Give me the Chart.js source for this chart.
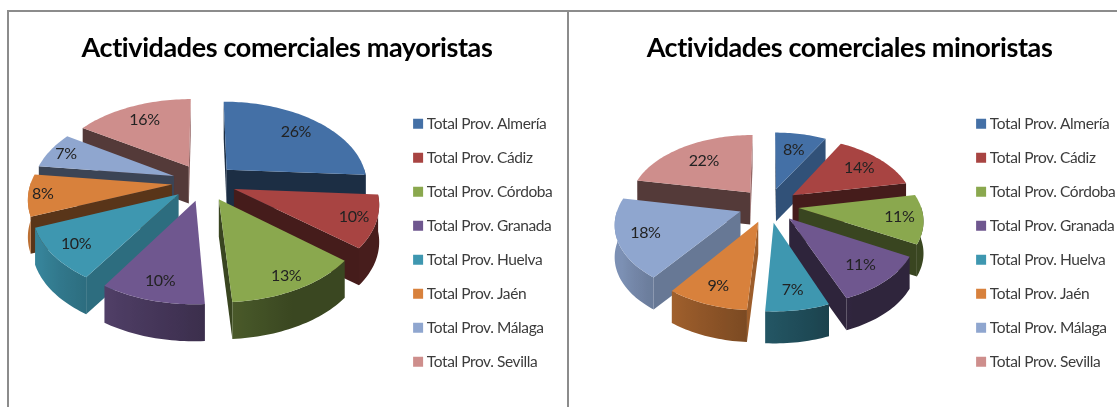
<!DOCTYPE html>
<html lang="es"><head><meta charset="utf-8">
<script src="https://cdn.jsdelivr.net/npm/chart.js@4"></script>
<style>
html,body{margin:0;padding:0;background:#fff;overflow:hidden;width:1117px;height:407px;position:relative}
canvas{position:absolute;display:block;filter:blur(.4px)}
.line{position:absolute;background:#8c8c8c}
</style></head><body>
<div class="line" style="left:7px;top:10px;width:1110px;height:2px"></div>
<div class="line" style="left:7px;top:10px;width:2px;height:397px"></div>
<div class="line" style="left:567px;top:10px;width:2px;height:397px"></div>
<canvas id="c1" style="left:4px;top:12px"></canvas>
<canvas id="c2" style="left:566px;top:12px"></canvas>
<script>
const categories = ['Total Prov. Almería','Total Prov. Cádiz','Total Prov. Córdoba','Total Prov. Granada','Total Prov. Huelva','Total Prov. Jaén','Total Prov. Málaga','Total Prov. Sevilla'];
const mayoristas = [26,10,13,10,10,8,7,16];
const minoristas = [8,14,11,11,7,9,18,22];
const colors = ['#4470A6','#A84442','#8AA84E','#6F578F','#3E97B0','#D8813C','#8FA6CF','#CE8E8C'];
const titleMay = 'Actividades comerciales mayoristas';
const titleMin = 'Actividades comerciales minoristas';
const labelRadiusMay = [.76,.85,.87,.83,.83,.90,.87,.76];
const labelRadiusMin = [.68,.75,.81,.76,.80,.80,.78,.68];

function shade(hex,f){
  const n=parseInt(hex.slice(1),16);
  return 'rgb('+[(n>>16)&255,(n>>8)&255,n&255].map(v=>Math.round(v*f)).join(',')+')';
}
const rimFactor=t=>{
  const deg=((t*180/Math.PI)%360+360)%360;
  return deg>270?0.42:0.42+0.45*Math.min(1,Math.max(0,(deg-65)/85));
};
const pie3d = {
  id:'pie3d',
  beforeDraw(chart){ chart.ctx.letterSpacing='-0.4px'; },
  beforeDatasetsDraw(chart,args,o){
    const ctx=chart.ctx, meta=chart.getDatasetMeta(0), bg=chart.data.datasets[0].backgroundColor;
    const arcs=meta.data.map((a,i)=>({a,i,mid:(a.startAngle+a.endAngle)/2}));
    arcs.sort((p,q)=>Math.sin(p.mid)-Math.sin(q.mid));
    const proj=(a,x,y,z)=>{
      const R=a.outerRadius, w=1/(1-o.persp*y/R);
      return [a.x+o.dx+x*w, a.y+o.dy+o.sy*y*w+z];
    };
    const poly=(pts,fill)=>{
      ctx.beginPath();pts.forEach((p,i)=>i?ctx.lineTo(p[0],p[1]):ctx.moveTo(p[0],p[1]));ctx.closePath();
      ctx.fillStyle=fill;ctx.fill();
    };
    for(const {a,i,mid} of arcs){
      const off=a.options.offset, ox=Math.cos(mid)*off, oy=Math.sin(mid)*off, R=a.outerRadius, col=bg[i];
      const P=(t,r,z)=>proj(a,ox+Math.cos(t)*r,oy+Math.sin(t)*r,z);
      const D=o.depth;
      const steps=Math.max(6,Math.ceil((a.endAngle-a.startAngle)*40));
      for(const [t,n] of [[a.startAngle,a.startAngle-Math.PI/2],[a.endAngle,a.endAngle+Math.PI/2]]){
        if(Math.sin(n)<-0.02) continue;
        const deg=((n*180/Math.PI)%360+360)%360;
        poly([P(t,0,0),P(t,R,0),P(t,R,D),P(t,0,D)],shade(col,deg<50?0.72:0.41));
      }
      let s0=a.startAngle,s1=a.endAngle;
      const ts=[];
      for(let s=0;s<=steps;s++){const t=s0+(s1-s0)*s/steps;if(Math.sin(t)>-0.03)ts.push(t);}
      if(ts.length>1){
        const up=ts.map(t=>P(t,R,0)), lo=ts.map(t=>P(t,R,D)).reverse();
        const xs=up.map(p=>p[0]), x0=Math.min(...xs), x1=Math.max(...xs);
        const g=ctx.createLinearGradient(x0,0,x1+.01,0);
        ts.forEach((t,k)=>g.addColorStop(Math.min(1,Math.max(0,(xs[k]-x0)/(x1-x0+.01))),shade(col,rimFactor(t))));
        poly(up.concat(lo),g);
      }
      const top=[P(0,0,0)];
      for(let s=0;s<=steps;s++) top.push(P(a.startAngle+(a.endAngle-a.startAngle)*s/steps,R,0));
      poly(top,col);
    }
    ctx.save();
    ctx.font=o.labelFont;ctx.fillStyle='#222';ctx.textAlign='center';ctx.textBaseline='middle';
    for(const {a,i,mid} of arcs){
      const off=a.options.offset, r=a.outerRadius*o.labelRadius[i];
      const p=proj(a,Math.cos(mid)*(off+r),Math.sin(mid)*(off+r),0);
      ctx.fillText(chart.data.datasets[0].data[i]+'%',p[0],p[1]);
    }
    ctx.restore();
    return false;
  }
};
function make(id,text,values,view){
  const cv=document.getElementById(id);
  cv.width=600;cv.height=395;cv.style.width='600px';cv.style.height='395px';
  return new Chart(cv,{
    type:'pie',
    data:{labels:categories,datasets:[{data:values,backgroundColor:colors,borderColor:colors,borderWidth:8,offset:view.explode}]},
    plugins:[pie3d],
    options:{
      responsive:false,animation:false,radius:view.radius,rotation:0,
      layout:{padding:{right:view.padRight,top:0,bottom:view.padBottom,left:0}},
      plugins:{
        tooltip:{enabled:false},
        title:{display:true,text,color:'#000',font:{family:'Lato',size:27,weight:'bold'},padding:{top:20,bottom:10}},
        legend:{position:'right',align:'end',labels:{boxWidth:2,boxHeight:2,padding:18.5,color:'#3c3c3c',font:{family:'Lato',size:15.5}}},
        pie3d:view
      }
    }
  });
}
make('c1',titleMay,mayoristas,{radius:141,explode:32,padRight:34,padBottom:19,dx:2.5,dy:-49,sy:.58,persp:.15,depth:37,labelRadius:labelRadiusMay,labelFont:'16px Lato'});
make('c2',titleMin,minoristas,{radius:122,explode:30,padRight:33,padBottom:19,dx:5,dy:-26,sy:.57,persp:.15,depth:32,labelRadius:labelRadiusMin,labelFont:'16px Lato'});
</script>
</body></html>
